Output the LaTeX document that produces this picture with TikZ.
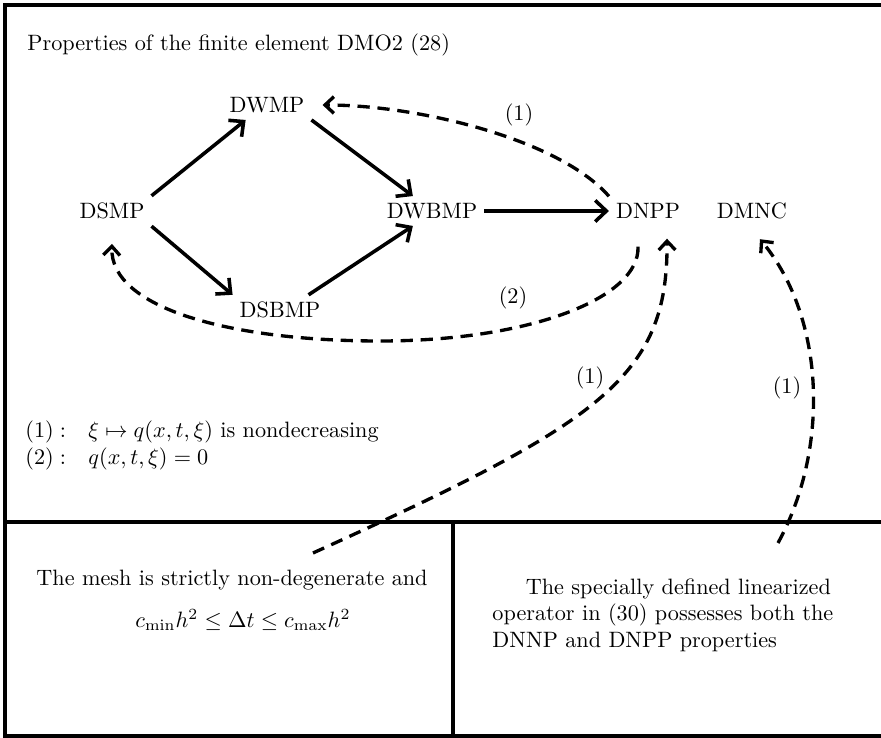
\documentclass[tikz,border=0pt]{standalone}
\usepackage{amsmath}
\usepackage{amssymb}
\usetikzlibrary{arrows.meta,calc}

\begin{document}
\begin{tikzpicture}[x=0.45pt,y=0.45pt,
  prop/.style={inner sep=3pt},
  impl/.style={-{Straight Barb[length=5pt,width=9.5pt]},line width=1.6pt},
  cond/.style={-{Straight Barb[length=4pt,width=7.5pt]},line width=1.5pt,dash pattern=on 5.5pt off 3.5pt},
  frame/.style={line width=1.5pt}]
  \useasboundingbox (0,0) rectangle (881,738);
%%
  % Frame
  \draw[frame] (881,733) -- (5,733) -- (5,2) -- (881,2);
  \draw[frame] (5,216) -- (881,216);
  \draw[frame] (453,216) -- (453,2);
  % Node: title
  \node[anchor=west,inner sep=0pt] (title) at (27,693) {Properties of the finite element DMO2 (28)};
  % Node: DSMP
  \node[prop] (DSMP) at (112,527) {DSMP};
  % Node: DWMP
  \node[prop] (DWMP) at (267,633) {DWMP};
  % Node: DWBMP
  \node[prop] (DWBMP) at (432,527) {DWBMP};
  % Node: DSBMP
  \node[prop] (DSBMP) at (280,428) {DSBMP};
  % Node: DNPP
  \node[prop] (DNPP) at (648,527) {DNPP};
  % Node: DMNC
  \node[prop] (DMNC) at (752,527) {DMNC};
  % Labels of the conditions
  \node (c1a) at (519,623) {(1)};
  \node (c2) at (513,440) {(2)};
  \node (c1b) at (590,360) {(1)};
  \node (c1c) at (787,350) {(1)};
  % Node: legend
  \node[anchor=west,inner sep=0pt] (legend) at (25,292)
    {\begin{tabular}{@{}l@{\quad}l@{}}
      $(1):$ & $\xi\mapsto q(x,t,\xi)$ is nondecreasing\\
      $(2):$ & $q(x,t,\xi)=0$
    \end{tabular}};
  % Node: mesh
  \node (mesh) at (232,158) {The mesh is strictly non-degenerate and};
  \node (meshcond) at (243,118) {$c_{\min}h^2\le\Delta t\le c_{\max}h^2$};
  % Node: operator
  \node[anchor=west,inner sep=0pt,align=left] (oper) at (492,123)
    {\hspace*{15pt}The specially defined linearized\\operator in (30) possesses both the\\DNNP and DNPP properties};
  \coordinate (meshtop) at (313,185);
  \coordinate (opertop) at (778,195);
  % Edge: DSMP -> DWMP
  \draw[impl] (DSMP.north east) -- (DWMP.215);
  % Edge: DWMP -> DWBMP
  \draw[impl] (DWMP.south east) -- (DWBMP.142);
  % Edge: DSMP -> DSBMP
  \draw[impl] (DSMP.south east) -- (DSBMP.north west);
  % Edge: DSBMP -> DWBMP
  \draw[impl] (DSBMP.28) -- (DWBMP.218);
  % Edge: DWBMP -> DNPP
  \draw[impl] (DWBMP) -- (DNPP);
  % Edge: DNPP -> DWMP
  \draw[cond] (DNPP.north west) .. controls (560,598) and (420,633) .. ([xshift=5pt]DWMP.east);
  % Edge: DNPP -> DSMP
  \draw[cond] ([shift={(-10,-21)}]DNPP.south) .. controls (640,440) and (530,397) .. (380,397)
    .. controls (230,397) and (110,430) .. ([yshift=-8pt]DSMP.south);
  % Edge: mesh -> DNPP
  \draw[cond] (meshtop) .. controls (600,315) and (668,360) .. ([shift={(19,-13)}]DNPP.south);
  % Edge: oper -> DMNC
  \draw[cond] (opertop) .. controls (830,290) and (825,420) .. ([shift={(8,-13)}]DMNC.south);
%
\end{tikzpicture}
\end{document}
